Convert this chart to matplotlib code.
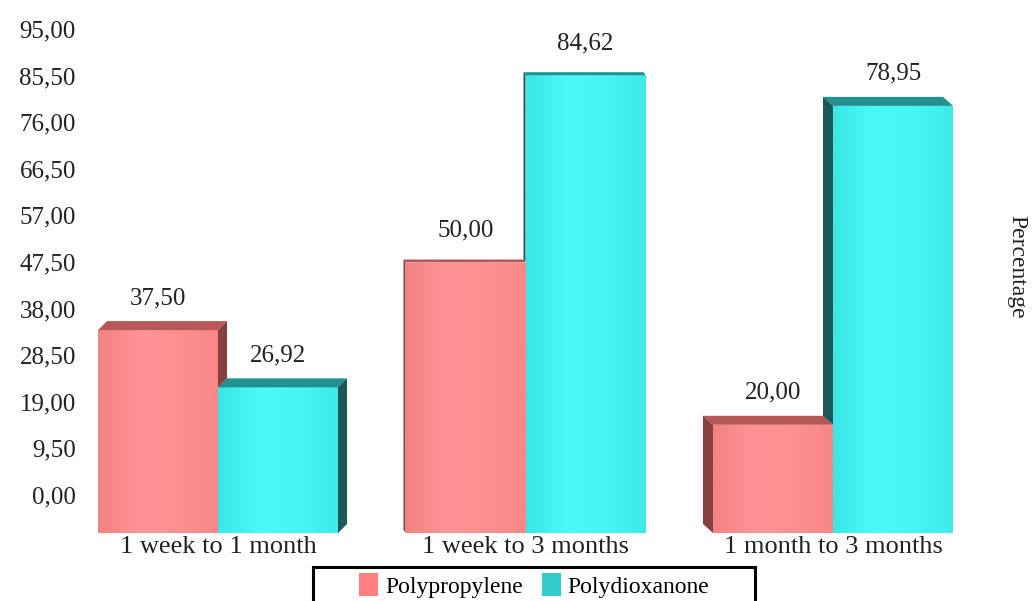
import matplotlib
matplotlib.use("Agg")
import matplotlib.pyplot as plt
from matplotlib.patches import Patch, Polygon, Rectangle
from matplotlib.colors import LinearSegmentedColormap
from matplotlib.ticker import FuncFormatter
import numpy as np

plt.rcParams['font.family'] = ['Liberation Serif', 'DejaVu Serif']

# ---- data ----
categories = ["1 week to 1 month", "1 week to 3 months", "1 month to 3 months"]
series_names = ["Polypropylene", "Polydioxanone"]
polypropylene = [37.50, 50.00, 20.00]
polydioxanone = [26.92, 84.62, 78.95]
tick_values = [0.0, 9.5, 19.0, 28.5, 38.0, 47.5, 57.0, 66.5, 76.0, 85.5, 95.0]

# ---- styling ----
front_shades = [["#F48282", "#FF9494", "#FF9090", "#F88686"],
                ["#3AE6E6", "#4CF8F8", "#48F4F4", "#3EEAEA"]]
cap_cols = ["#B65858", "#22908F"]
side_cols = ["#864040", "#1B5858"]
legend_cols = ["#FF7F7F", "#33CCCC"]
text_col = "#222222"

W, H = 1032, 601
fig = plt.figure(figsize=(W / 100, H / 100), dpi=100)

# pixel layout of the plotting area
px_left, px_right = 80, 1000
px_bottom, px_top = 533, 15
px_per_group = 307.5
px_first_center = 218
px_per_unit = 5.41

ax = fig.add_axes([px_left / W, 1 - px_bottom / H,
                   (px_right - px_left) / W, (px_bottom - px_top) / H])
x0 = -(px_first_center - px_left) / px_per_group
ax.set_xlim(x0, x0 + (px_right - px_left) / px_per_group)
ax.set_ylim(0, (px_bottom - px_top) / px_per_unit)

bar_w = 120 / px_per_group
# perspective depth of each group (pixels): left group shows its right side,
# right group shows its left side, middle group is seen almost head-on
depth_dx = [d / px_per_group for d in (9, -2, -10)]
depth_dy = [d / px_per_unit for d in (9, 3, 9)]

x = np.arange(len(categories))
values = [polypropylene, polydioxanone]
offsets = [-bar_w / 2, bar_w / 2]
grad = np.linspace(0, 1, 64).reshape(1, -1)

# front faces with a soft horizontal shading
for s in range(2):
    bars = ax.bar(x + offsets[s], values[s], width=bar_w, color=front_shades[s][1],
                  edgecolor='none', zorder=2 + s * 2)
    cmap = LinearSegmentedColormap.from_list(f"shade{s}", front_shades[s])
    for b in bars:
        im = ax.imshow(grad, cmap=cmap, aspect='auto', interpolation='bilinear',
                       extent=(b.get_x(), b.get_x() + b.get_width(), 0, b.get_height()),
                       zorder=2 + s * 2)
        im.set_clip_path(b)

# top caps and side faces
for g in range(len(categories)):
    dx, dy = depth_dx[g], depth_dy[g]
    for s in range(2):
        v = values[s][g]
        left = x[g] + offsets[s] - bar_w / 2
        right = left + bar_w
        cap = Polygon([(left, v), (right, v), (right + dx, v + dy),
                       (left + dx, v + dy)], closed=True,
                      facecolor=cap_cols[s], edgecolor='none', zorder=3 + s * 2)
        ax.add_patch(cap)
        edge = right if dx > 0 else left
        # neighbour on the visible side hides the lower part of this side face
        neighbour = None
        if dx > 0 and s == 0:
            neighbour = values[1][g]
        if dx < 0 and s == 1:
            neighbour = values[0][g]
        low = 0.0 if neighbour is None else min(neighbour, v)
        side = Polygon([(edge, low), (edge, v), (edge + dx, v + dy),
                        (edge + dx, low + dy)], closed=True,
                       facecolor=side_cols[s], edgecolor='none', zorder=6)
        ax.add_patch(side)

# value labels
for s in range(2):
    for g in range(len(categories)):
        v = values[s][g]
        ax.annotate(f"{v:.2f}".replace('.', ','), (x[g] + offsets[s], v),
                    xytext=(0, 23), textcoords='offset points',
                    ha='center', va='center', fontsize=18, color=text_col)

ax.set_xticks(x)
ax.set_xticklabels(categories, fontsize=19, color=text_col)
ax.tick_params(axis='x', length=0, pad=2)
ax.set_yticks([])
for sp in ax.spines.values():
    sp.set_visible(False)

# value axis labels, offset from the bar baseline as in the perspective view
t_off, t_scale = 7.02, 0.9067
sec = ax.secondary_yaxis('left',
                         functions=(lambda v: (v - t_off) / t_scale,
                                    lambda t: t_off + t * t_scale))
sec.set_yticks(tick_values)
sec.yaxis.set_major_formatter(FuncFormatter(lambda t, p: f"{t:.2f}".replace('.', ',')))
sec.tick_params(length=0, pad=3, labelsize=18, labelcolor=text_col)
sec.spines['left'].set_visible(False)

fig.text(1017 / W, 1 - 267 / H, "Percentage", rotation=270,
         ha='center', va='center', fontsize=17, color=text_col)

# legend
handles = [Patch(facecolor=c, edgecolor='none') for c in legend_cols]
fig.legend(handles, series_names, loc='upper left',
           bbox_to_anchor=(359 / W, 1 - 573 / H), ncol=2, frameon=False,
           fontsize=17, handlelength=0.8, handleheight=1.15,
           handletextpad=0.3, columnspacing=0.8, borderpad=0, borderaxespad=0)
fig.patches.append(Rectangle((313 / W, -0.05), (755 - 313) / W, 0.05 + 1 - 567 / H,
                             transform=fig.transFigure, fill=False,
                             edgecolor='black', linewidth=2.2))

fig.savefig("out.png", dpi=100)
